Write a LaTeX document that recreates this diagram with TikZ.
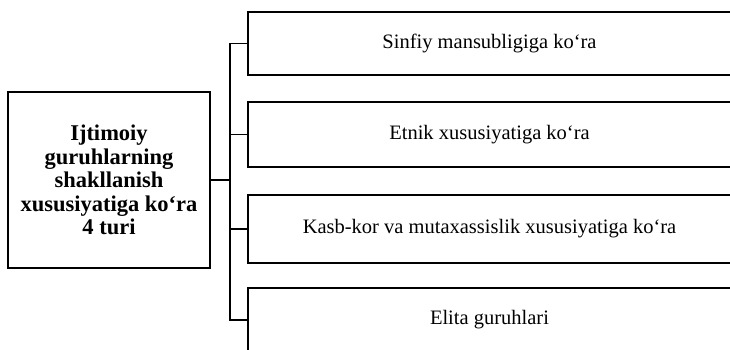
\documentclass[tikz,border=0pt]{standalone}
\usepackage{fontspec}
\setmainfont{Liberation Serif}
\begin{document}
\begin{tikzpicture}[x=1pt,y=-1pt,line width=1.4pt,
  kindbox/.style={draw,minimum width=483pt,inner sep=0pt,font=\fontsize{20.5}{23}\selectfont}]
\useasboundingbox (0,0) rectangle (730,349);
\node[draw,minimum width=202pt,minimum height=176pt,align=center,font=\fontsize{22.5}{23.5}\selectfont\bfseries] (main) at (109,180)
  {Ijtimoiy\\guruhlarning\\shakllanish\\xususiyatiga ko‘ra\\4 turi};
\node[kindbox,minimum height=63pt] (kind1) at (489.5,43.5) {Sinfiy mansubligiga ko‘ra};
\node[kindbox,minimum height=65pt] (kind2) at (489.5,134.5) {Etnik xususiyatiga ko‘ra};
\node[kindbox,minimum height=68pt] (kind3) at (489.5,229) {Kasb-kor va mutaxassislik xususiyatiga ko‘ra};
\node[kindbox,minimum height=64pt] (kind4) at (489.5,320) {Elita guruhlari};
\coordinate (spine) at (230,0);
\draw (main.east) -- (main.east -| spine);
\draw[line cap=rect] (kind1.west -| spine) -- (kind4.west -| spine);
\foreach \i in {1,...,4}
  \draw (kind\i.west -| spine) -- (kind\i.west);
\end{tikzpicture}
\end{document}
